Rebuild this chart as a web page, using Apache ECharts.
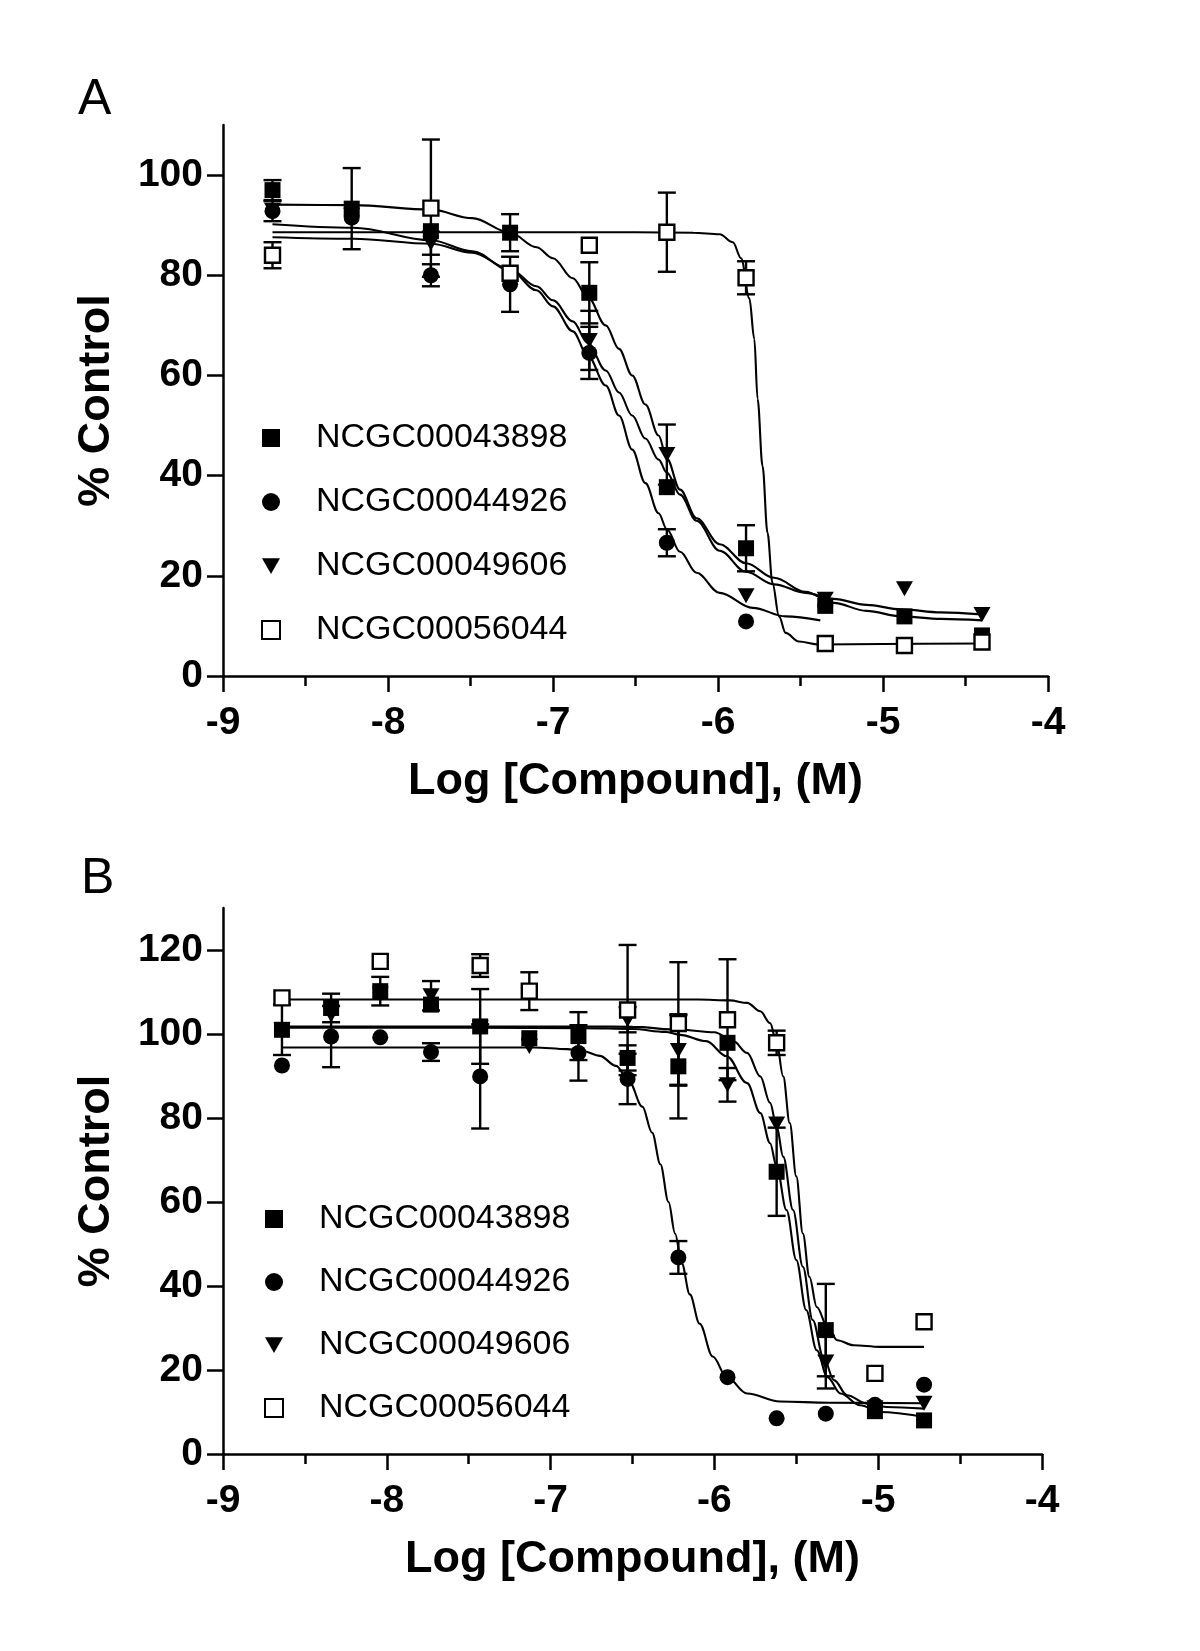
<!DOCTYPE html>
<html><head><meta charset="utf-8">
<script src="https://cdn.jsdelivr.net/npm/echarts@6/dist/echarts.min.js"></script>
<style>html,body{margin:0;padding:0;background:#fff}#chart{width:1200px;height:1651px}</style>
</head><body><div id="chart"></div>
<script>
const FONT = '"Liberation Sans", Arial, Helvetica, sans-serif';
const names = ['NCGC00043898', 'NCGC00044926', 'NCGC00049606', 'NCGC00056044'];
const panelLetters = ['A', 'B'];
const xTicks = [-9, -8, -7, -6, -5, -4];
const yTicksA = [0, 20, 40, 60, 80, 100];
const yTicksB = [0, 20, 40, 60, 80, 100, 120];
const xTitle = 'Log [Compound], (M)';
const yTitle = '% Control';

// ---------- Panel A data ----------
const xA = [-8.70, -8.22, -7.74, -7.26, -6.78, -6.31, -5.83, -5.35, -4.87, -4.40];
const a43898 = [97.0, 93.3, 88.8, 88.5, 76.5, 37.7, 25.5, 14.0, 11.9, 8.1];
const a43898Err = [2.0, 8.1, 0, 3.7, 6.1, 0, 4.6, 0, 0, 0];
const a44926 = [92.8, 91.5, 80.0, 78.2, 64.5, 26.6, 10.9, 14.1, null, null];
const a44926Err = [2.0, 0, 2.2, 5.5, 5.2, 2.7, 0, 0, 0, 0];
const a49606 = [93.0, 92.0, 86.4, 80.0, 67.0, 44.2, 16.0, 15.3, 17.4, 12.3];
const a49606Err = [0, 0, 2.3, 0, 5.9, 6.0, 0, 0, 0, 0];
const a56044 = [84.0, null, 93.4, 80.4, 86.0, 88.6, 79.5, 6.5, 6.1, 6.8];
const a56044Err = [2.6, 0, 13.7, 0, 0, 7.9, 3.3, 0, 0, 0];

// fitted curves  [logX, %]
const fitA43898 = [[-8.70,94.1],[-8.21,94.0],[-7.74,93.1],[-7.49,91.4],[-7.26,88.5],[-7.10,85.6],[-7.00,83.4],[-6.88,79.4],[-6.79,75.7],[-6.68,70.0],[-6.60,65.3],[-6.52,60.0],[-6.44,54.2],[-6.36,48.0],[-6.31,43.4],[-6.23,37.2],[-6.13,31.5],[-5.99,26.3],[-5.83,22.5],[-5.66,19.6],[-5.47,16.8],[-5.30,14.6],[-5.10,13.0],[-4.89,11.9],[-4.65,11.4],[-4.40,11.1]];
const fitA44926 = [[-8.70,90.2],[-8.21,89.5],[-7.74,87.0],[-7.49,84.8],[-7.26,81.0],[-7.10,77.0],[-7.00,73.8],[-6.88,68.8],[-6.79,64.0],[-6.68,58.0],[-6.60,52.0],[-6.52,45.2],[-6.44,38.5],[-6.36,32.5],[-6.31,29.3],[-6.23,24.8],[-6.13,20.6],[-5.99,16.6],[-5.79,13.6],[-5.59,11.9],[-5.38,11.1]];
const fitA49606 = [[-8.70,87.6],[-8.21,87.3],[-7.74,86.3],[-7.49,84.5],[-7.26,81.2],[-7.10,77.8],[-7.00,75.0],[-6.88,70.8],[-6.79,66.5],[-6.68,61.0],[-6.60,56.6],[-6.52,52.0],[-6.44,47.4],[-6.36,43.2],[-6.31,40.6],[-6.23,36.2],[-6.13,31.0],[-5.99,25.0],[-5.83,20.8],[-5.66,18.3],[-5.47,16.6],[-5.30,15.4],[-5.10,14.2],[-4.89,13.3],[-4.65,12.7],[-4.40,12.3]];
const fitA56044 = [[-8.70,88.6],[-7.50,88.6],[-6.50,88.6],[-6.15,88.5],[-5.99,88.2],[-5.91,86.6],[-5.86,83.4],[-5.81,75.4],[-5.78,67.3],[-5.76,55.3],[-5.73,41.9],[-5.70,28.6],[-5.67,18.6],[-5.63,11.9],[-5.59,8.6],[-5.51,6.9],[-5.39,6.3],[-5.00,6.4],[-4.40,6.5]];

// ---------- Panel B data ----------
const xB = [-8.64, -8.34, -8.04, -7.73, -7.43, -7.13, -6.83, -6.53, -6.22, -5.92, -5.62, -5.32, -5.02, -4.72];
const b43898 = [101.0, 106.2, 110.2, 107.0, 101.8, 99.0, 99.5, 94.3, 92.3, 97.9, 67.2, 29.5, 10.2, 8.0];
const b43898Err = [6.0, 3.4, 3.4, 0, 8.9, 0, 5.7, 3.0, 12.4, 0, 10.5, 11.0, 0, 0];
const b44926 = [92.5, 99.4, 99.2, 95.7, 89.9, 98.8, 95.5, 89.3, 46.8, 18.3, 8.5, 9.6, 11.7, 16.5];
const b44926Err = [0, 7.3, 0, 2.1, 12.4, 0, 6.6, 6.0, 3.9, 0, 0, 0, 0, 0];
const b49606 = [101.0, 104.5, 109.5, 109.1, 101.5, 97.0, 100.0, 103.4, 96.1, 87.9, 78.6, 21.9, 11.0, 12.1];
const b49606Err = [0, 0, 0, 3.5, 0, 0, 0, 3.0, 8.4, 4.0, 0, 6.3, 0, 0];
const b56044 = [108.6, null, 117.3, null, 116.3, 110.2, null, 105.7, 102.5, 103.4, 97.9, null, 19.2, 31.5];
const b56044Err = [0, 0, 0, 0, 2.7, 4.5, 0, 15.5, 14.6, 14.4, 2.9, 0, 0, 0];

const fitB43898 = [[-8.64,101.5],[-7.50,101.5],[-6.80,101.4],[-6.50,101.2],[-6.30,100.5],[-6.21,99.8],[-6.05,98.3],[-5.925,94.7],[-5.80,88.3],[-5.72,81.2],[-5.66,74.0],[-5.62,68.4],[-5.56,58.1],[-5.50,46.2],[-5.44,34.3],[-5.375,24.7],[-5.31,18.3],[-5.23,14.4],[-5.11,11.6],[-4.99,10.0],[-4.72,8.8]];
const fitB44926 = [[-8.64,96.8],[-7.60,96.8],[-7.10,96.8],[-6.90,96.4],[-6.80,95.9],[-6.70,94.8],[-6.60,92.4],[-6.52,88.6],[-6.44,82.7],[-6.38,76.5],[-6.33,69.0],[-6.28,60.0],[-6.24,52.5],[-6.20,45.5],[-6.15,38.0],[-6.09,31.0],[-6.01,23.2],[-5.925,18.3],[-5.80,14.4],[-5.60,12.5],[-5.30,12.2],[-4.72,12.1]];
const fitB49606 = [[-8.64,101.8],[-7.50,101.8],[-6.80,101.8],[-6.50,101.7],[-6.21,101.0],[-6.00,100.4],[-5.885,98.3],[-5.80,95.5],[-5.72,89.9],[-5.66,83.6],[-5.62,78.0],[-5.58,70.8],[-5.52,58.1],[-5.46,44.6],[-5.40,31.9],[-5.335,23.1],[-5.27,17.6],[-5.19,14.0],[-5.07,12.0],[-4.95,11.2],[-4.72,10.8]];
const fitB56044 = [[-8.64,108.2],[-7.50,108.2],[-6.50,108.2],[-6.10,108.2],[-5.905,108.0],[-5.80,107.4],[-5.72,105.4],[-5.66,102.6],[-5.62,97.9],[-5.58,89.9],[-5.54,78.8],[-5.50,66.1],[-5.46,52.5],[-5.42,42.2],[-5.375,35.0],[-5.31,30.3],[-5.25,27.1],[-5.15,25.9],[-4.99,25.5],[-4.72,25.5]];

const panels = [
  {x: xA, vals: [a43898, a44926, a49606, a56044], errs: [a43898Err, a44926Err, a49606Err, a56044Err],
   fits: [fitA43898, fitA44926, fitA49606, fitA56044]},
  {x: xB, vals: [b43898, b44926, b49606, b56044], errs: [b43898Err, b44926Err, b49606Err, b56044Err],
   fits: [fitB43898, fitB44926, fitB49606, fitB56044]}
];

const marks = [
  {symbol: 'rect', symbolSize: 16, symbolRotate: 0, itemStyle: {color: '#000', opacity: 1}},
  {symbol: 'circle', symbolSize: 16, symbolRotate: 0, itemStyle: {color: '#000', opacity: 1}},
  {symbol: 'triangle', symbolSize: [17, 15], symbolRotate: 180, itemStyle: {color: '#000', opacity: 1}},
  {symbol: 'rect', symbolSize: 15, symbolRotate: 0, itemStyle: {color: '#fff', borderColor: '#000', borderWidth: 2.4, opacity: 1}}
];
const legendIcons = ['rect', 'circle', 'path://M0,0L16,0L8,14Z', 'rect'];

function errRender(params, api) {
  const x = api.value(0), lo = api.value(1), hi = api.value(2);
  const pLo = api.coord([x, lo]), pHi = api.coord([x, hi]);
  const w = 9;
  const st = {stroke: '#000', lineWidth: 2.4};
  return {type: 'group', children: [
    {type: 'line', shape: {x1: pLo[0], y1: pLo[1], x2: pHi[0], y2: pHi[1]}, style: st},
    {type: 'line', shape: {x1: pHi[0] - w, y1: pHi[1], x2: pHi[0] + w, y2: pHi[1]}, style: st},
    {type: 'line', shape: {x1: pLo[0] - w, y1: pLo[1], x2: pLo[0] + w, y2: pLo[1]}, style: st}
  ]};
}

const series = [];
panels.forEach((p, pi) => {
  p.vals.forEach((vals, k) => {
    series.push({type: 'line', xAxisIndex: pi, yAxisIndex: pi, data: p.fits[k], showSymbol: false, symbol: 'none',
      smooth: 0.35, smoothMonotone: 'x', lineStyle: {color: '#000', width: 2.1, opacity: 1}, silent: true, z: 2, animation: false});
    const eb = [];
    vals.forEach((v, i) => { if (v != null && p.errs[k][i] > 0) eb.push([p.x[i], v - p.errs[k][i], v + p.errs[k][i]]); });
    series.push({type: 'custom', xAxisIndex: pi, yAxisIndex: pi, data: eb, renderItem: errRender,
      encode: {x: 0, y: [1, 2]}, silent: true, z: 1, animation: false});
  });
});
panels.forEach((p, pi) => {
  p.vals.forEach((vals, k) => {
    series.push(Object.assign({type: 'scatter', name: names[k], xAxisIndex: pi, yAxisIndex: pi,
      data: p.x.map((x, i) => [x, vals[i]]).filter(d => d[1] != null), z: 5, animation: false}, marks[k]));
  });
});

const axisLineStyle = {color: '#000', width: 2.5};
function makeX(gi) {
  return {gridIndex: gi, type: 'value', min: -9, max: -4, interval: 1,
    axisLine: {show: true, onZero: false, lineStyle: axisLineStyle},
    axisTick: {show: true, length: 16, lineStyle: axisLineStyle},
    minorTick: {show: true, splitNumber: 2, length: 10, lineStyle: axisLineStyle},
    splitLine: {show: false}, minorSplitLine: {show: false},
    axisLabel: {fontSize: 39, fontWeight: 'bold', fontFamily: FONT, color: '#000', margin: 28,
      customValues: xTicks, formatter: v => String(v)},
    name: xTitle, nameLocation: 'middle', nameGap: 83,
    nameTextStyle: {fontSize: 45, fontWeight: 'bold', fontFamily: FONT, color: '#000'}};
}
function makeY(gi, max, ticks) {
  return {gridIndex: gi, type: 'value', min: 0, max: max, interval: 20,
    axisLine: {show: true, onZero: false, lineStyle: axisLineStyle},
    axisTick: {show: true, length: 16, lineStyle: axisLineStyle, customValues: ticks},
    splitLine: {show: false},
    axisLabel: {fontSize: 39, fontWeight: 'bold', fontFamily: FONT, color: '#000', margin: 20,
      customValues: ticks},
    name: yTitle, nameLocation: 'middle', nameGap: 104, nameRotate: 90,
    nameTextStyle: {fontSize: 45, fontWeight: 'bold', fontFamily: FONT, color: '#000'}};
}

function makeLegend(left, top, gap) {
  return {data: names.map((n, k) => ({name: n, icon: legendIcons[k]})), orient: 'vertical', left: left, top: top,
    itemWidth: 18, itemHeight: 18, itemGap: gap, selectedMode: false, inactiveColor: '#000',
    textStyle: {fontSize: 34, fontFamily: FONT, color: '#000', lineHeight: 40, padding: [0, 0, 0, 31]}};
}

const option = {
  backgroundColor: '#fff',
  animation: false,
  grid: [
    {left: 223, top: 125, width: 825, height: 551},
    {left: 223, top: 908, width: 819, height: 546}
  ],
  xAxis: [makeX(0), makeX(1)],
  yAxis: [makeY(0, 110, yTicksA), makeY(1, 130, yTicksB)],
  legend: [makeLegend(256, 413, 24), makeLegend(259, 1194, 23)],
  graphic: [
    {type: 'text', x: 78, y: 100, style: {text: panelLetters[0], font: '50px ' + FONT, fill: '#000', textVerticalAlign: 'middle'}},
    {type: 'text', x: 81, y: 879, style: {text: panelLetters[1], font: '50px ' + FONT, fill: '#000', textVerticalAlign: 'middle'}}
  ],
  series: series
};

const chart = echarts.init(document.getElementById('chart'), null, {renderer: 'canvas'});
chart.setOption(option);
</script>
</body></html>
